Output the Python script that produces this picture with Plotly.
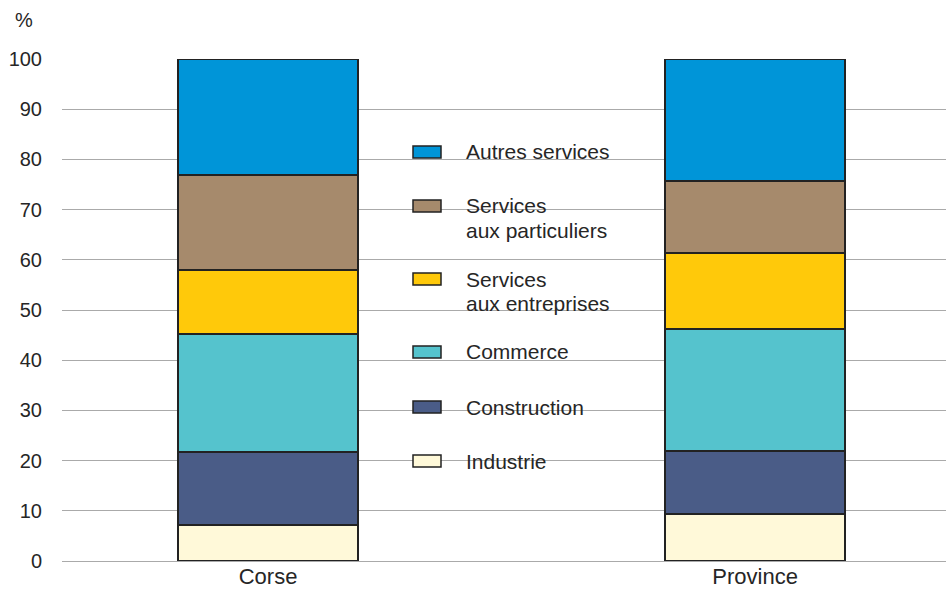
import plotly.graph_objects as go

regions = ["Corse", "Province"]
sectors = ["Industrie", "Construction", "Commerce", "Services aux entreprises",
           "Services aux particuliers", "Autres services"]
legend_labels = {
    "Industrie": ["Industrie"],
    "Construction": ["Construction"],
    "Commerce": ["Commerce"],
    "Services aux entreprises": ["Services", "aux entreprises"],
    "Services aux particuliers": ["Services", "aux particuliers"],
    "Autres services": ["Autres services"],
}
values = {
    "Industrie": [7.1, 9.3],
    "Construction": [14.6, 12.6],
    "Commerce": [23.6, 24.4],
    "Services aux entreprises": [12.7, 15.1],
    "Services aux particuliers": [18.9, 14.3],
    "Autres services": [23.1, 24.3],
}
colors = {
    "Industrie": "#FFF9D9",
    "Construction": "#4A5C87",
    "Commerce": "#55C3CD",
    "Services aux entreprises": "#FFC90A",
    "Services aux particuliers": "#A68A6C",
    "Autres services": "#0095D8",
}
y_ticks = list(range(0, 101, 10))

W, H = 946, 591
L, R, T, B = 62, 0, 59, 30
FONT = "Liberation Sans, Arial, sans-serif"
TXT = "#262626"

fig = go.Figure()
for s in sectors:
    fig.add_trace(go.Bar(
        x=regions, y=values[s], name=s,
        marker=dict(color=colors[s], line=dict(color="#222222", width=2)),
        width=0.37, showlegend=False,
    ))

def px(x):
    return (x - L) / (W - L - R)

def py(y):
    return (H - B - y) / (H - T - B)

legend_pos = {
    "Autres services": 152,
    "Services aux particuliers": 206,
    "Services aux entreprises": 279,
    "Commerce": 352,
    "Construction": 407,
    "Industrie": 461,
}
shapes = []
annotations = []
for s, yc in legend_pos.items():
    shapes.append(dict(type="rect", xref="paper", yref="paper",
                       x0=px(413), x1=px(441), y0=py(yc + 6), y1=py(yc - 6),
                       fillcolor=colors[s], line=dict(color="#222222", width=1.5)))
    for i, line in enumerate(legend_labels[s]):
        annotations.append(dict(text=line, xref="paper", yref="paper",
                                x=px(464), y=py(yc + 24 * i), xanchor="left",
                                yanchor="middle", showarrow=False,
                                font=dict(size=21, color=TXT, family=FONT)))
annotations.append(dict(text="%", xref="paper", yref="paper", x=px(24), y=py(20),
                        xanchor="center", yanchor="middle", showarrow=False,
                        font=dict(size=20, color=TXT, family=FONT)))

fig.update_layout(
    width=W, height=H,
    margin=dict(l=L, r=R, t=T, b=B, autoexpand=False),
    plot_bgcolor="white", paper_bgcolor="white",
    barmode="stack",
    font=dict(family=FONT, size=20, color=TXT),
    shapes=shapes, annotations=annotations,
    xaxis=dict(range=[-0.423, 1.392], showgrid=False, showline=False, zeroline=False,
               automargin=False, ticks="",
               tickfont=dict(size=22, color=TXT)),
    yaxis=dict(range=[0, 100], tickvals=y_ticks, showgrid=True, gridcolor="#AAAAAA",
               automargin=False,
               gridwidth=1, zeroline=True, zerolinecolor="#AAAAAA", zerolinewidth=1,
               showline=False, ticks="outside", ticklen=15,
               tickcolor="rgba(0,0,0,0)", tickfont=dict(size=20, color=TXT)),
)
fig.write_html("out.html")
